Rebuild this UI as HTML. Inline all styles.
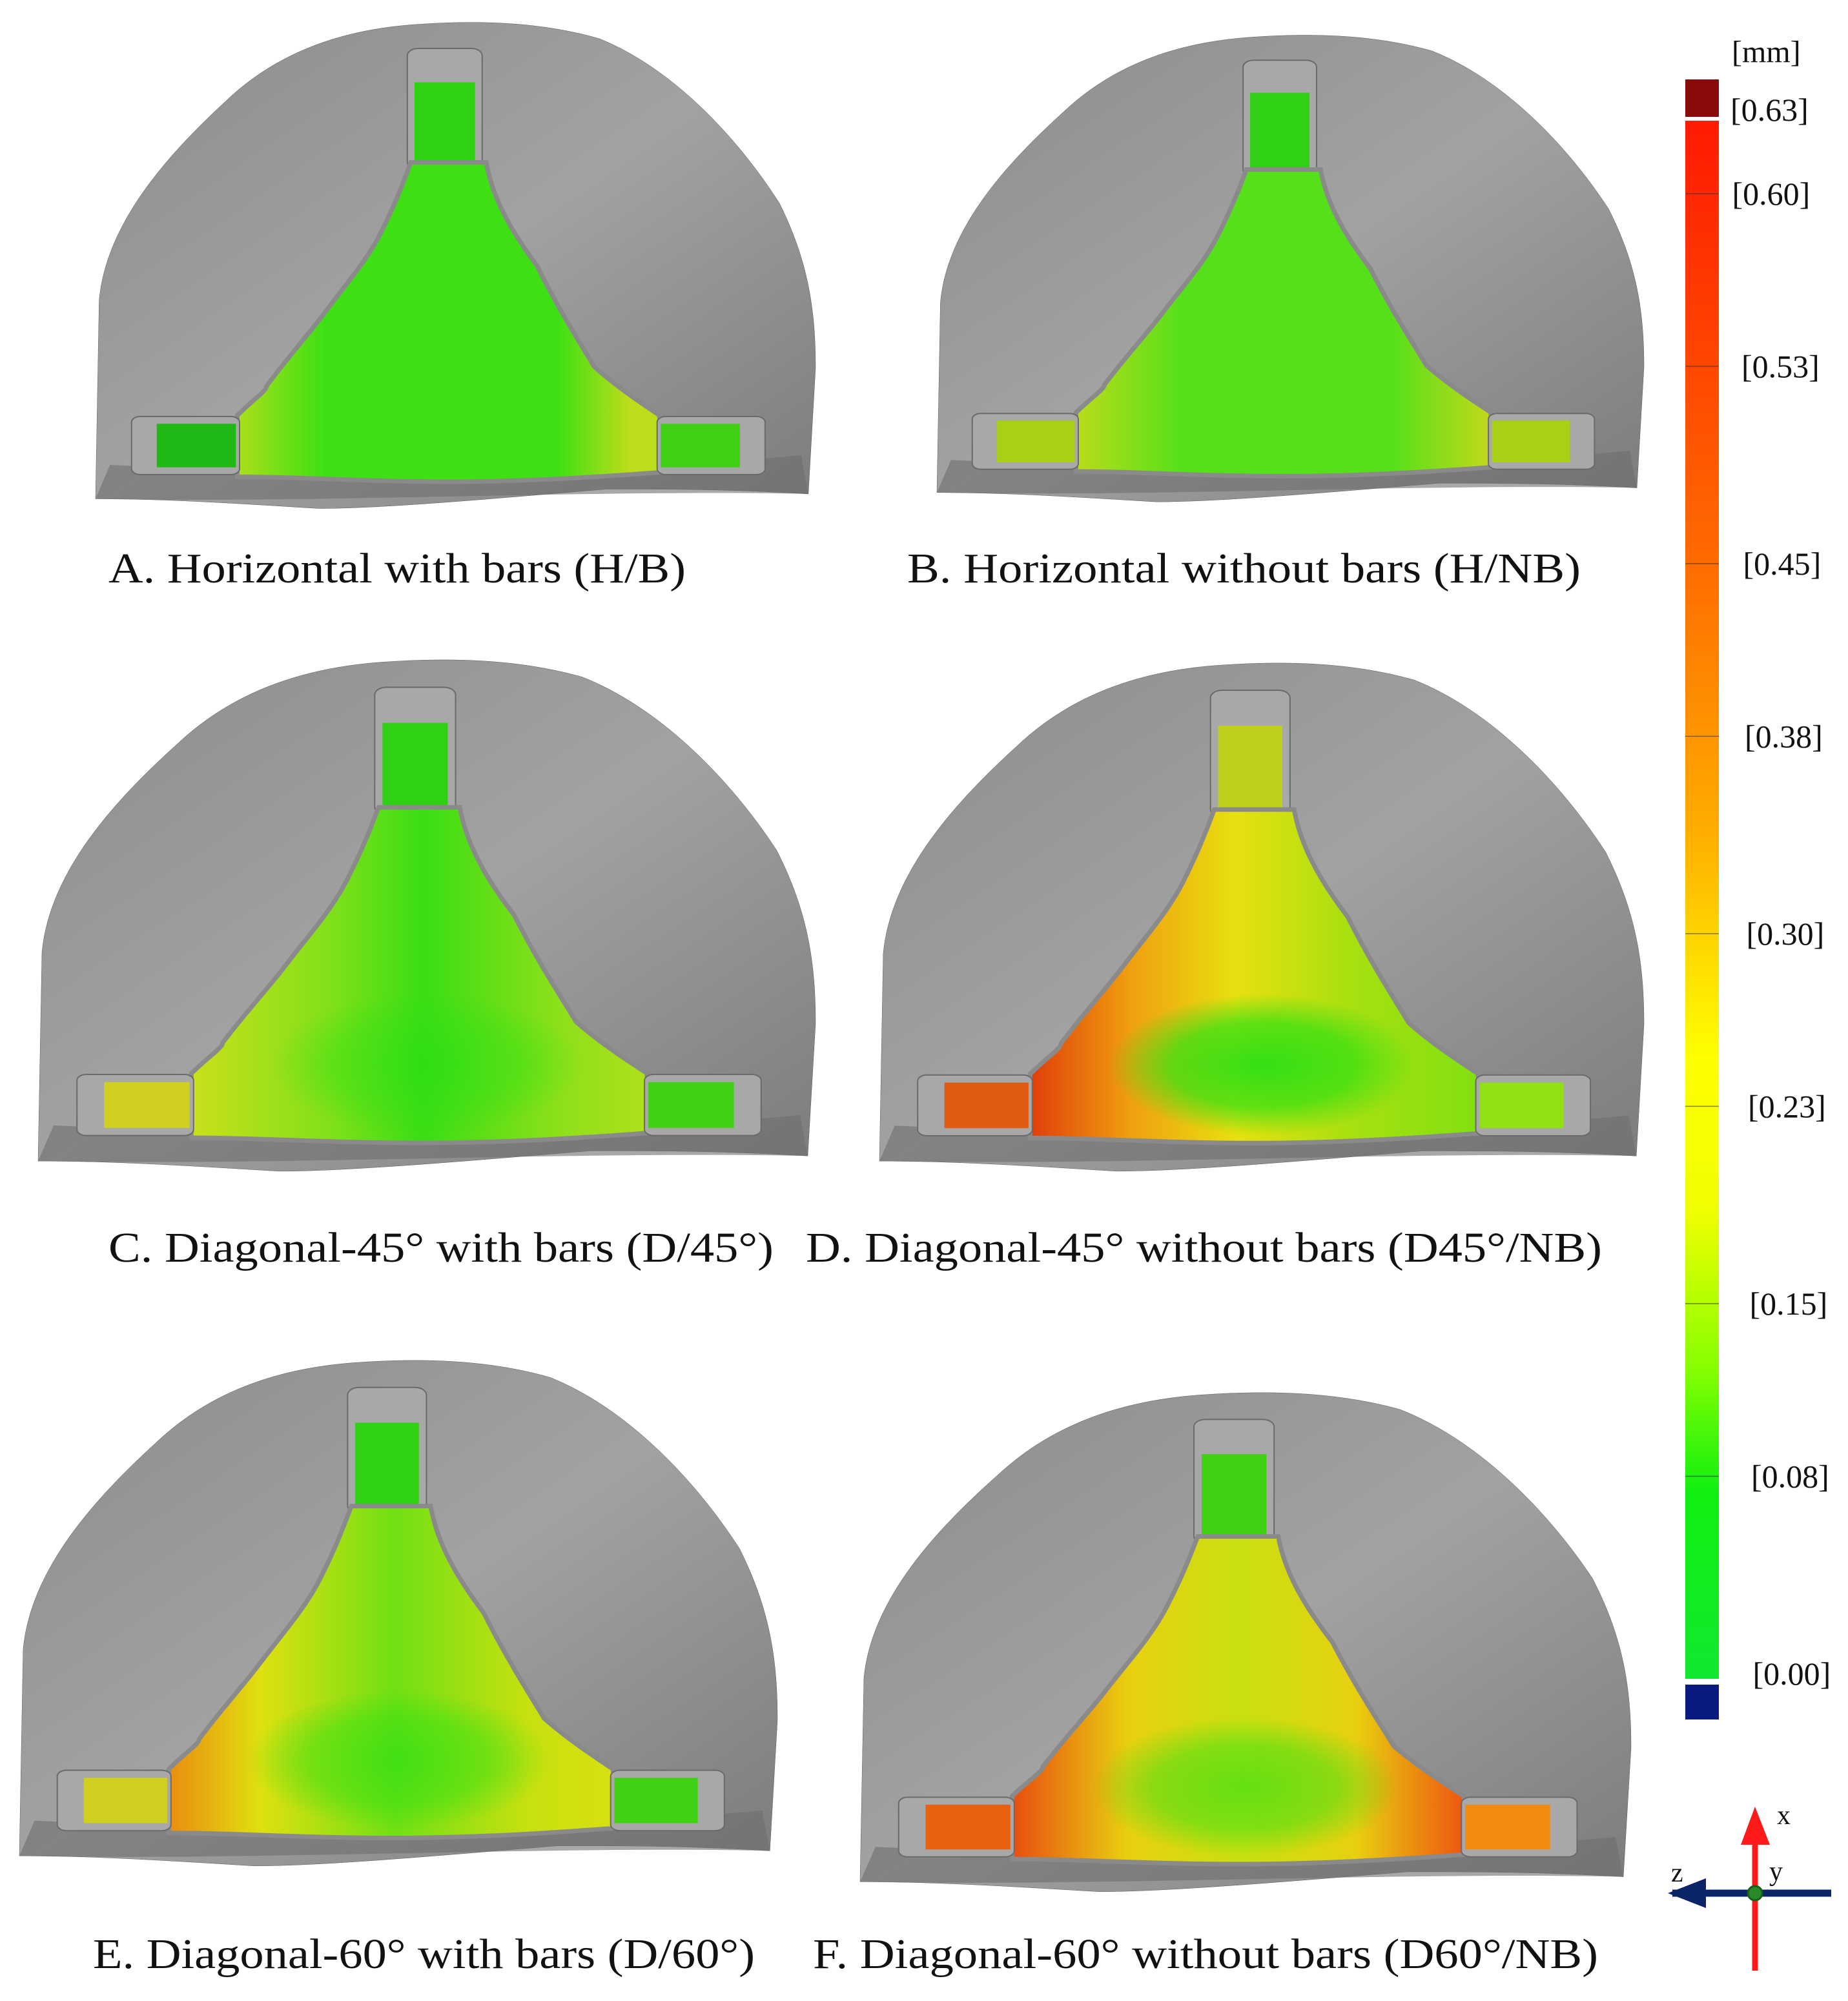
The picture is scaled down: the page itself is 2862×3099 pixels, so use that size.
<!DOCTYPE html>
<html><head><meta charset="utf-8">
<style>
html,body{margin:0;padding:0;background:#fff;}
svg{display:block;}
text{font-family:"Liberation Serif",serif;fill:#111;}
</style></head>
<body>
<svg id="fig" width="2862" height="3099" viewBox="0 0 2862 3099" xmlns="http://www.w3.org/2000/svg">
<defs>
  <linearGradient id="gray" x1="0" y1="0" x2="1" y2="1">
    <stop offset="0" stop-color="#8c8c8c"/><stop offset="0.5" stop-color="#a2a2a2"/><stop offset="1" stop-color="#7c7c7c"/>
  </linearGradient>
  <linearGradient id="scaleGrad" x1="0" y1="0" x2="0" y2="1">
    <stop offset="0" stop-color="#ff1a00"/>
    <stop offset="0.28" stop-color="#ff6a00"/>
    <stop offset="0.45" stop-color="#ffaa00"/>
    <stop offset="0.6" stop-color="#ffff00"/>
    <stop offset="0.7" stop-color="#f0ff00"/>
    <stop offset="0.8" stop-color="#88ff00"/>
    <stop offset="0.88" stop-color="#10f010"/>
    <stop offset="1" stop-color="#10e830"/>
  </linearGradient>
  <radialGradient id="blob" cx="0.5" cy="0.5" r="0.5">
    <stop offset="0" stop-color="#20e014" stop-opacity="1"/>
    <stop offset="0.6" stop-color="#30e014" stop-opacity="0.8"/>
    <stop offset="1" stop-color="#30e014" stop-opacity="0"/>
  </radialGradient>
</defs>
<g id="panels"></g>
<g id="colorbar"></g>
<g id="axes-icon">
  <line x1="2590" y1="2932" x2="2836" y2="2932" stroke="#0a2468" stroke-width="11"/>
  <polygon points="2583,2932 2642,2909 2642,2955" fill="#0a2468"/>
  <line x1="2718" y1="2850" x2="2718" y2="3052" stroke="#ff1a1a" stroke-width="9"/>
  <polygon points="2718,2798 2696,2857 2741,2857" fill="#ff1a1a"/>
  <circle cx="2718" cy="2932" r="11" fill="#2a8a2a" stroke="#1b5e1b" stroke-width="3"/>
  <text x="2752" y="2825" font-size="42">x</text>
  <text x="2740" y="2912" font-size="42">y</text>
  <text x="2588" y="2914" font-size="42">z</text>
</g>
</svg>
<script>
// color scale data
const tickLabels = ["[0.63]","[0.60]","[0.53]","[0.45]","[0.38]","[0.30]","[0.23]","[0.15]","[0.08]","[0.00]"];
const tickValues = [0.63,0.60,0.53,0.45,0.38,0.30,0.23,0.15,0.08,0.00];
const bandValues = [0.60,0.53,0.45,0.38,0.30,0.23,0.15,0.08];

// panel data
const panelNames = ["panel-a","panel-b","panel-c","panel-d","panel-e","panel-f"];
const panelCaptions = ["A. Horizontal with bars (H/B)","B. Horizontal without bars (H/NB)","C. Diagonal-45\u00b0 with bars (D/45\u00b0)","D. Diagonal-45\u00b0 without bars (D45\u00b0/NB)","E. Diagonal-60\u00b0 with bars (D/60\u00b0)","F. Diagonal-60\u00b0 without bars (D60\u00b0/NB)"];
const palateStops = [
  [[0,"#a8e01a"],[0.2,"#3ee014"],[0.75,"#3ee014"],[0.92,"#c0dc1a"],[1,"#b8e01a"]],
  [[0,"#b8dc1a"],[0.25,"#55e01a"],[0.75,"#55e01a"],[1,"#c8d81a"]],
  [[0,"#c8e01a"],[0.3,"#80e01a"],[0.5,"#3add14"],[0.8,"#8ee01a"],[1,"#b0e01a"]],
  [[0,"#e0400a"],[0.22,"#f0a010"],[0.45,"#e8e010"],[0.7,"#a8e010"],[1,"#80e010"]],
  [[0,"#e89010"],[0.2,"#e0e010"],[0.5,"#70e014"],[0.8,"#c8e010"],[1,"#d8e010"]],
  [[0,"#e85010"],[0.25,"#e8d010"],[0.5,"#c8e010"],[0.75,"#e8d010"],[1,"#ee5010"]]
];
const blobOpacity = [0,0,0.5,0.9,0.6,0.6];
const topBarColors = ["#30d014","#30d014","#30d014","#c0d01a","#30d014","#40d014"];
const leftBarColors = ["#20b814","#a8d014","#d0d020","#e05a10","#d0d020","#e86010"];
const rightBarColors = ["#40d014","#a8d014","#40d014","#90e014","#40d014","#f08a10"];

const NS="http://www.w3.org/2000/svg";
const boxes=[[148,30,1115,750],[1451,50,1095,720],[59,1017,1204,789],[1362,1022,1184,784],[30,2102,1174,780],[1332,2152,1194,770]];
const caps=[[168,902,894],[1405,902,1043],[168,1954,1030],[1248,1954,1233],[144,3048,1025],[1259,3048,1216]];
function mk(tag,attrs,parent){const e=document.createElementNS(NS,tag);for(const k in attrs)e.setAttribute(k,attrs[k]);parent.appendChild(e);return e;}
const defs=document.querySelector('defs');
const panels=document.getElementById('panels');
const outerD="M0,99 L0.5,58 C1.5,42 10,28 18,17 C25,7 34,2 45,1 C55,0 63,1 70,4 C80,10 89,24 95,38 C99,50 100,60 100,72 L99,98 C88,97 80,97 71,97 C55,99 40,101 31,101 C20,100 10,99 0,99 Z";
const palD="M44,30 L54,30 C55,38 58,45 61,51 C64,60 67,67 69,72 C72,76 75,79 78,82 L79,93 C70,94 60,95 49,95 C38,95 28,94 20,94 L20,82 C22,79 24,77 24,76 C27,70 30,65 32,61 C35,55 38,50 40,44 C42,38 43,34 44,30 Z";
boxes.forEach((b,i)=>{
  const [x,y,w,h]=b;
  const g=mk('g',{transform:`translate(${x},${y}) scale(${w/100},${h/100})`},panels);
  
  
  const gr=mk('linearGradient',{id:'pal'+i,x1:'0',y1:'0',x2:'1',y2:'0'},defs);
  palateStops[i].forEach(s=>mk('stop',{offset:s[0],'stop-color':s[1]},gr));
  const o=mk('path',{d:outerD,fill:'url(#gray)',stroke:'#5a5a5a','stroke-width':'0.5','vector-effect':'non-scaling-stroke'},g);
  
  
  mk('path',{d:"M2,92 C30,94 70,94 98,90 L99,98 C70,97 30,100 0,99 Z",fill:'#6e6e6e',opacity:'0.6'},g);
  mk('rect',{x:43.3,y:6,width:10.4,height:25,rx:1.5,fill:'#a8a8a8',stroke:'#6a6a6a','stroke-width':2,'vector-effect':'non-scaling-stroke'},g);
  const tb=mk('rect',{x:44.3,y:13,width:8.4,height:17,fill:topBarColors[i]},g);
  
  
  mk('path',{d:palD,fill:'none',stroke:'#8a8a8a','stroke-width':14,'vector-effect':'non-scaling-stroke'},g);
  const p=mk('path',{d:palD,fill:`url(#pal${i})`},g);
  
  
  if(blobOpacity[i]>0) mk('ellipse',{cx:50,cy:80,rx:20,ry:14,fill:'url(#blob)',opacity:blobOpacity[i]},g);
  mk('rect',{x:5,y:82,width:15,height:12,rx:1.2,fill:'#a8a8a8',stroke:'#6a6a6a','stroke-width':2,'vector-effect':'non-scaling-stroke'},g);
  const lb=mk('rect',{x:8.5,y:83.5,width:11,height:9,fill:leftBarColors[i]},g);
  
  
  mk('rect',{x:78,y:82,width:15,height:12,rx:1.2,fill:'#a8a8a8',stroke:'#6a6a6a','stroke-width':2,'vector-effect':'non-scaling-stroke'},g);
  const rb=mk('rect',{x:78.5,y:83.5,width:11,height:9,fill:rightBarColors[i]},g);
  
  
  const c=caps[i];
  const t=mk('text',{x:c[0],y:c[1],'font-size':66,textLength:c[2],lengthAdjust:'spacingAndGlyphs'},panels);
  t.textContent=panelCaptions[i];
  
  
});
// colorbar
const cb=document.getElementById('colorbar');
const vTop=0.60, vBot=0.00, yTop=300, yBot=2592;
function yScale(v){return yBot-(v-vBot)/(vTop-vBot)*(yBot-yTop);}
mk('rect',{x:2610,y:123,width:52,height:58,fill:'#8a0a0a'},cb);
const bar=mk('rect',{x:2610,y:187,width:52,height:2413,fill:'url(#scaleGrad)'},cb);


mk('rect',{x:2610,y:2609,width:52,height:54,fill:'#0a1a80'},cb);
bandValues.forEach(v=>{
  const l=mk('line',{x1:2610,x2:2662,y1:yScale(v),y2:yScale(v),stroke:'#333','stroke-width':1.5,opacity:0.6},cb);
  
  
});
const mm=mk('text',{x:2682,y:96,'font-size':48},cb);
mm.textContent='[mm]';


tickValues.forEach((v,i)=>{
  const yy = v>0.6 ? 170 : yScale(v);
  const xx = 2680 + Math.min(i,9)*2.5 + (i>=2?12:0);
  const t=mk('text',{x:xx,y:yy+17,'font-size':50},cb);
  t.textContent=tickLabels[i];
  
  
});
</script>
</body></html>
